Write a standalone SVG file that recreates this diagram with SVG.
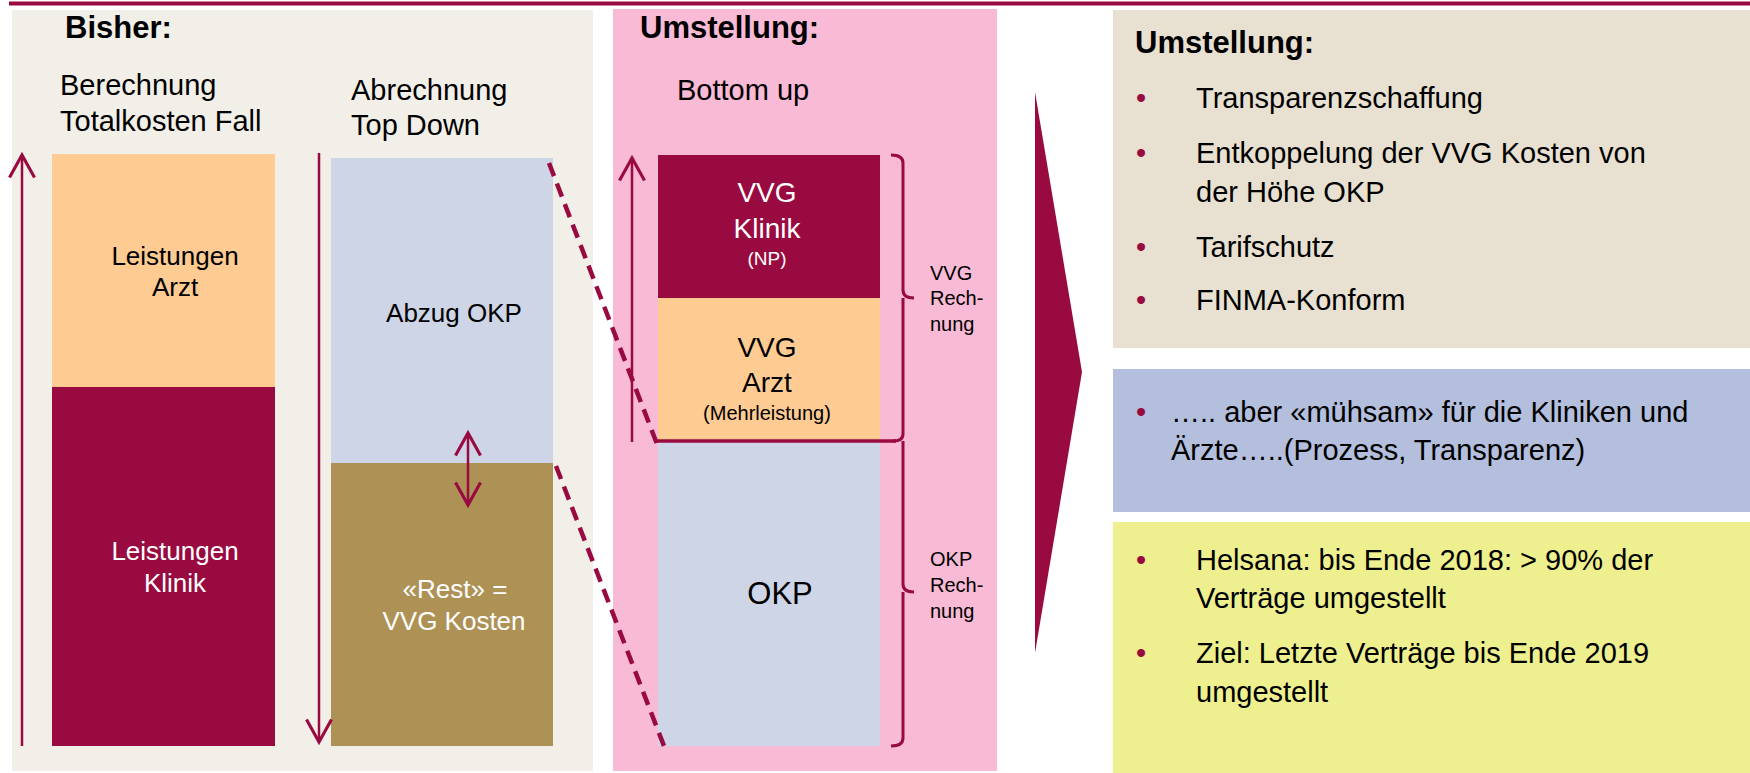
<svg xmlns="http://www.w3.org/2000/svg" width="1750" height="773" viewBox="0 0 1750 773">
<style>
text{font-family:"Liberation Sans",Arial,sans-serif;}
.h{font-weight:bold;font-size:31px;fill:#000;}
.t{font-size:29px;fill:#000;}
.b{font-size:26px;}
.bl{fill:#000;}
.wh{fill:#fff;}
.bul{font-size:29px;fill:#990A40;}
.ln{stroke:#990A40;stroke-width:2.5;fill:none;}
.dash{stroke:#990A40;stroke-width:4.5;fill:none;stroke-dasharray:14 8;}
.br{stroke:#990A40;stroke-width:3;fill:none;stroke-linejoin:round;}
</style>
<defs>
<marker id="ah" markerUnits="userSpaceOnUse" markerWidth="30" markerHeight="30" viewBox="-20 -12 22 24" refX="0" refY="0" orient="auto-start-reverse">
<path d="M-18,-10 L0,0 L-18,10" fill="none" stroke="#990A40" stroke-width="2.5"/>
</marker>
</defs>
<rect width="1750" height="773" fill="#fff"/>
<line x1="9" y1="3.5" x2="1750" y2="3.5" stroke="#990A40" stroke-width="4"/>

<g id="panel-bisher">
<rect x="12" y="10" width="581" height="761" fill="#F2EFE8"/>
<text class="h" x="65" y="38">Bisher:</text>
<text class="t" x="60" y="95">Berechnung</text>
<text class="t" x="60" y="131">Totalkosten Fall</text>
<text class="t" x="351" y="100">Abrechnung</text>
<text class="t" x="351" y="135">Top Down</text>
</g>

<g id="panel-umstellung">
<rect x="613" y="9" width="384" height="762" fill="#F9BAD5"/>
<text class="h" x="640" y="38">Umstellung:</text>
<text class="t" x="677" y="100">Bottom up</text>
</g>

<g id="node-leistungen-arzt">
<rect x="52" y="154" width="223" height="233" fill="#FECB93"/>
<text class="b bl" x="175" y="265" text-anchor="middle">Leistungen</text>
<text class="b bl" x="175" y="296" text-anchor="middle">Arzt</text>
</g>
<g id="node-leistungen-klinik">
<rect x="52" y="387" width="223" height="359" fill="#990A40"/>
<text class="b wh" x="175" y="560" text-anchor="middle">Leistungen</text>
<text class="b wh" x="175" y="592" text-anchor="middle">Klinik</text>
</g>
<g id="node-abzug-okp">
<rect x="331" y="158" width="222" height="305" fill="#CED5E6"/>
<text class="b bl" x="454" y="322" text-anchor="middle">Abzug OKP</text>
</g>
<g id="node-rest">
<rect x="331" y="463" width="222" height="283" fill="#AE9155"/>
<text class="b wh" x="455" y="598" text-anchor="middle">«Rest» =</text>
<text class="b wh" x="454" y="630" text-anchor="middle">VVG Kosten</text>
</g>

<g id="node-vvg-klinik">
<rect x="658" y="155" width="222" height="143" fill="#990A40"/>
<text class="wh" x="767" y="202" text-anchor="middle" font-size="28">VVG</text>
<text class="wh" x="767" y="238" text-anchor="middle" font-size="28">Klinik</text>
<text class="wh" x="767" y="265" text-anchor="middle" font-size="19">(NP)</text>
</g>
<g id="node-vvg-arzt">
<rect x="658" y="298" width="222" height="143" fill="#FECB93"/>
<text class="bl" x="767" y="357" text-anchor="middle" font-size="28">VVG</text>
<text class="bl" x="767" y="392" text-anchor="middle" font-size="28">Arzt</text>
<text class="bl" x="767" y="420" text-anchor="middle" font-size="20">(Mehrleistung)</text>
</g>
<g id="node-okp">
<rect x="658" y="442" width="222" height="304" fill="#CED5E6"/>
<text class="bl" x="780" y="604" text-anchor="middle" font-size="31">OKP</text>
</g>
<g id="label-vvg-rechnung">
<text class="bl" x="930" y="280" font-size="20">VVG</text>
<text class="bl" x="930" y="305" font-size="20">Rech-</text>
<text class="bl" x="930" y="331" font-size="20">nung</text>
</g>
<g id="label-okp-rechnung">
<text class="bl" x="930" y="566" font-size="20">OKP</text>
<text class="bl" x="930" y="592" font-size="20">Rech-</text>
<text class="bl" x="930" y="618" font-size="20">nung</text>
</g>

<g id="arrow-shape">
<polygon points="1035,92 1082,372 1035,653" fill="#990A40"/>
</g>

<g id="box-vorteile">
<rect x="1113" y="10" width="637" height="338" fill="#E8E0D1"/>
<text class="h" x="1135" y="53">Umstellung:</text>
<text class="bul" x="1136" y="108">•</text>
<text class="t" x="1196" y="108">Transparenzschaffung</text>
<text class="bul" x="1136" y="163">•</text>
<text class="t" x="1196" y="163">Entkoppelung der VVG Kosten von</text>
<text class="t" x="1196" y="202">der Höhe OKP</text>
<text class="bul" x="1136" y="257">•</text>
<text class="t" x="1196" y="257">Tarifschutz</text>
<text class="bul" x="1136" y="310">•</text>
<text class="t" x="1196" y="310">FINMA-Konform</text>
</g>
<g id="box-aber">
<rect x="1113" y="369" width="637" height="143" fill="#B3BFDC"/>
<text class="bul" x="1136" y="422">•</text>
<text class="t" x="1171" y="422">….. aber «mühsam» für die Kliniken und</text>
<text class="t" x="1171" y="460">Ärzte…..(Prozess, Transparenz)</text>
</g>
<g id="box-status">
<rect x="1113" y="522" width="637" height="251" fill="#EEF08F"/>
<text class="bul" x="1136" y="570">•</text>
<text class="t" x="1196" y="570">Helsana: bis Ende 2018: &gt; 90% der</text>
<text class="t" x="1196" y="608">Verträge umgestellt</text>
<text class="bul" x="1136" y="663">•</text>
<text class="t" x="1196" y="663">Ziel: Letzte Verträge bis Ende 2019</text>
<text class="t" x="1196" y="702">umgestellt</text>
</g>

<g id="connectors">
<line class="ln" x1="22" y1="746" x2="22" y2="155" marker-end="url(#ah)"/>
<line class="ln" x1="319" y1="153" x2="319" y2="742" marker-end="url(#ah)"/>
<line class="ln" x1="468" y1="433" x2="468" y2="505" marker-start="url(#ah)" marker-end="url(#ah)"/>
<line class="ln" x1="632" y1="442" x2="632" y2="158" marker-end="url(#ah)"/>
<line class="dash" x1="549" y1="163" x2="657" y2="444"/>
<line class="dash" x1="556" y1="466" x2="664" y2="746"/>
<line x1="657" y1="441" x2="896" y2="441" stroke="#990A40" stroke-width="3.5"/>
<path class="br" d="M891,155 Q903,155 903,163 L903,290 Q903,298 914,298 M903,298 L903,434 Q903,441 893,441"/>
<path class="br" d="M903,441 L903,584 Q903,592 914,592 M903,592 L903,738 Q903,746 891,746"/>
</g>
</svg>
